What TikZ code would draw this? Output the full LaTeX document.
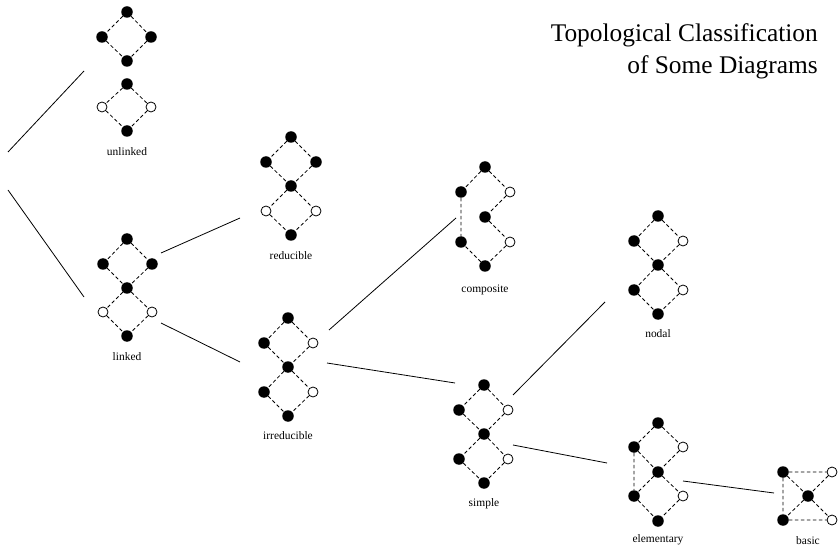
\documentclass[tikz,border=0pt]{standalone}
\usepackage{fontspec}
\setmainfont{Liberation Serif}
\begin{document}
\begin{tikzpicture}[x=1bp,y=-1bp,
  fdot/.style={circle,fill=black,inner sep=0pt,minimum size=11.5bp},
  odot/.style={circle,draw=black,fill=white,inner sep=0pt,minimum size=10bp,line width=0.8bp},
  de/.style={line width=0.8bp,dash pattern=on 3.5bp off 2.5bp},
  link/.style={line width=0.8bp},
  lab/.style={font=\fontsize{11.5}{13}\selectfont,inner sep=0pt}]
\useasboundingbox (0,0) rectangle (840,548);
% title
\node[anchor=base east,align=right,inner sep=0pt,font=\fontsize{25.5}{32}\selectfont] (title) at (818,42) {Topological Classification};
\node[anchor=base east,inner sep=0pt,font=\fontsize{25.5}{32}\selectfont] (title2) at (818,74) {of Some Diagrams};
% unlinked
\node[fdot] (u1) at (127,12) {};
\node[fdot] (u2) at (102,37) {};
\node[fdot] (u3) at (151,37) {};
\node[fdot] (u4) at (127,61) {};
\draw[de] (u1)--(u2) (u1)--(u3) (u2)--(u4) (u3)--(u4);
\node[fdot] (u5) at (127,84) {};
\node[odot] (u6) at (102,107) {};
\node[odot] (u7) at (151,107) {};
\node[fdot] (u8) at (127,131) {};
\draw[de] (u5)--(u6) (u5)--(u7) (u6)--(u8) (u7)--(u8);
\node[lab] (ulab) at (127,152) {unlinked};
% linked
\node[fdot] (l1) at (127,239) {};
\node[fdot] (l2) at (103,264) {};
\node[fdot] (l3) at (152,264) {};
\node[fdot] (l4) at (127,288) {};
\node[odot] (l5) at (103,312) {};
\node[odot] (l6) at (152,312) {};
\node[fdot] (l7) at (127,336) {};
\draw[de] (l1)--(l2) (l1)--(l3) (l2)--(l4) (l3)--(l4) (l4)--(l5) (l4)--(l6) (l5)--(l7) (l6)--(l7);
\node[lab] (llab) at (127,357) {linked};
% reducible
\node[fdot] (r1) at (291,137) {};
\node[fdot] (r2) at (266,162) {};
\node[fdot] (r3) at (316,162) {};
\node[fdot] (r4) at (291,186) {};
\node[odot] (r5) at (266,211) {};
\node[odot] (r6) at (316,211) {};
\node[fdot] (r7) at (291,235) {};
\draw[de] (r1)--(r2) (r1)--(r3) (r2)--(r4) (r3)--(r4) (r4)--(r5) (r4)--(r6) (r5)--(r7) (r6)--(r7);
\node[lab] (rlab) at (291,256) {reducible};
% irreducible
\node[fdot] (i1) at (288,318) {};
\node[fdot] (i2) at (264,343) {};
\node[odot] (i3) at (313,343) {};
\node[fdot] (i4) at (288,367) {};
\node[fdot] (i5) at (264,392) {};
\node[odot] (i6) at (313,392) {};
\node[fdot] (i7) at (288,416) {};
\draw[de] (i1)--(i2) (i1)--(i3) (i2)--(i4) (i3)--(i4) (i4)--(i5) (i4)--(i6) (i5)--(i7) (i6)--(i7);
\node[lab] (ilab) at (288,436) {irreducible};
% composite
\node[fdot] (c1) at (485,167) {};
\node[fdot] (c2) at (461,192) {};
\node[odot] (c3) at (510,192) {};
\node[fdot] (c4) at (485,217) {};
\node[fdot] (c5) at (461,242) {};
\node[odot] (c6) at (510,242) {};
\node[fdot] (c7) at (485,266) {};
\draw[de] (c1)--(c2) (c1)--(c3) (c3)--(c4) (c4)--(c6) (c6)--(c7) (c7)--(c5) (c2)--(c5);
\node[lab] (clab) at (485,290) {composite};
% simple
\node[fdot] (s1) at (484,385) {};
\node[fdot] (s2) at (459,410) {};
\node[odot] (s3) at (508,410) {};
\node[fdot] (s4) at (484,434) {};
\node[fdot] (s5) at (459,459) {};
\node[odot] (s6) at (508,459) {};
\node[fdot] (s7) at (484,483) {};
\draw[de] (s1)--(s2) (s1)--(s3) (s2)--(s4) (s3)--(s4) (s4)--(s5) (s4)--(s6) (s5)--(s7) (s6)--(s7);
\node[lab] (slab) at (484,504) {simple};
% nodal
\node[fdot] (n1) at (658,216) {};
\node[fdot] (n2) at (634,241) {};
\node[odot] (n3) at (683,241) {};
\node[fdot] (n4) at (658,265) {};
\node[fdot] (n5) at (634,290) {};
\node[odot] (n6) at (683,290) {};
\node[fdot] (n7) at (658,314) {};
\draw[de] (n1)--(n2) (n1)--(n3) (n2)--(n4) (n3)--(n4) (n4)--(n5) (n4)--(n6) (n5)--(n7) (n6)--(n7);
\node[lab] (nlab) at (658,334) {nodal};
% elementary
\node[fdot] (e1) at (658,423) {};
\node[fdot] (e2) at (634,447) {};
\node[odot] (e3) at (683,447) {};
\node[fdot] (e4) at (658,472) {};
\node[fdot] (e5) at (634,496) {};
\node[odot] (e6) at (683,496) {};
\node[fdot] (e7) at (658,521) {};
\draw[de] (e1)--(e2) (e1)--(e3) (e2)--(e4) (e3)--(e4) (e4)--(e5) (e4)--(e6) (e5)--(e7) (e6)--(e7) (e2)--(e5);
\node[lab] (elab) at (658,540) {elementary};
% basic
\node[fdot] (b1) at (783,472) {};
\node[odot] (b2) at (832,472) {};
\node[fdot] (b3) at (808,496) {};
\node[fdot] (b4) at (783,520) {};
\node[odot] (b5) at (832,520) {};
\draw[de] (b1)--(b2) (b1)--(b4) (b4)--(b5) (b1)--(b3) (b2)--(b3) (b3)--(b4) (b3)--(b5);
\node[lab] (blab) at (808,541) {basic};
% connectors
\coordinate (root1) at (8,152);
\coordinate (root2) at (8,190);
\coordinate (ua) at (84,71);
\coordinate (la) at (84,297);
\coordinate (lr1) at (161,253);
\coordinate (lr2) at (240,218);
\coordinate (li1) at (161,323);
\coordinate (li2) at (240,362);
\coordinate (ic1) at (329,330);
\coordinate (ic2) at (456,218);
\coordinate (is1) at (327,363);
\coordinate (is2) at (455,383);
\coordinate (sn1) at (513,395);
\coordinate (sn2) at (605,302);
\coordinate (se1) at (513,445);
\coordinate (se2) at (607,463);
\coordinate (eb1) at (683,481);
\coordinate (eb2) at (774,493);
\draw[link] (root1)--(ua) (root2)--(la) (lr1)--(lr2) (li1)--(li2) (ic1)--(ic2) (is1)--(is2) (sn1)--(sn2) (se1)--(se2) (eb1)--(eb2);
\end{tikzpicture}
\end{document}
